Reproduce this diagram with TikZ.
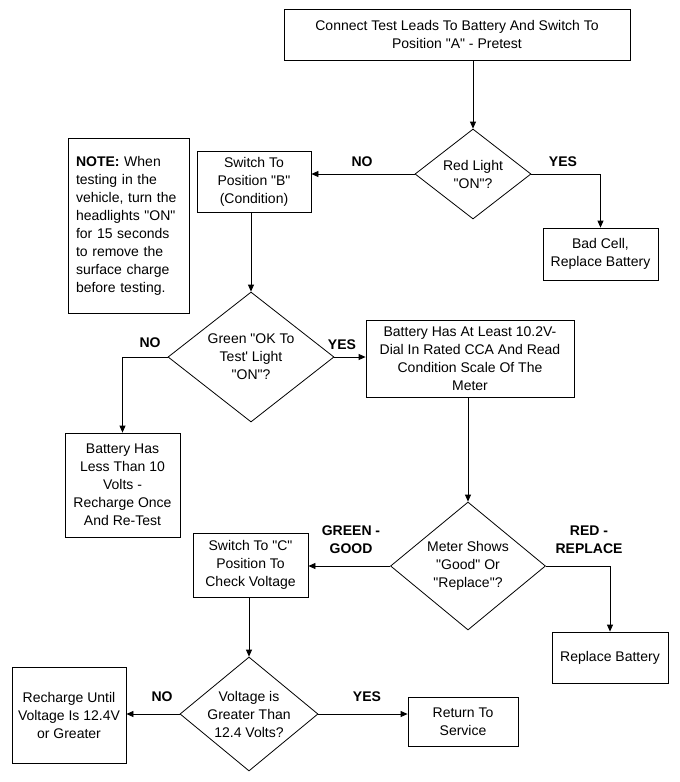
\documentclass[tikz,border=0pt]{standalone}
\usepackage{fontspec}
\setmainfont{Liberation Sans}
\usetikzlibrary{shapes.geometric,arrows.meta}
\newcommand{\dq}{\textquotedbl}
\begin{document}
\begin{tikzpicture}[x=1pt,y=-1pt,
  every node/.style={font=\fontsize{14}{18}\selectfont},
  box/.style={draw,line width=0.8pt,inner sep=0pt,align=center},
  dia/.style={draw,line width=0.8pt,diamond,inner sep=0pt},
  lbl/.style={font=\fontsize{14}{18}\selectfont\bfseries,align=center,inner sep=0pt},
  conn/.style={line width=0.8pt,-{Triangle[length=7pt,width=6pt]}},
  plain/.style={line width=0.8pt}]
\useasboundingbox (0,0) rectangle (680,782);
% boxes
\node[box,minimum width=346pt,minimum height=51pt] (b1) at (457,34.5) {Connect Test Leads To Battery And Switch To\\Position \dq A\dq{} - Pretest};
\node[dia,minimum width=116pt,minimum height=90pt] (d1) at (473,174) {};
\node[align=center] (d1t) at (d1) {Red Light\\\dq ON\dq ?};
\node[box,minimum width=115pt,minimum height=52pt] (bad) at (600.5,254) {Bad Cell,\\Replace Battery};
\node[box,minimum width=114pt,minimum height=61pt] (swB) at (254,181.5) {Switch To\\Position \dq B\dq\\(Condition)};
\node[draw,line width=0.8pt,text width=105pt,inner xsep=8pt,inner ysep=0pt,align=left,minimum height=175pt] (note) at (128.5,225.5)
  {\textbf{NOTE:} When\\testing in the\\vehicle, turn the\\headlights \dq ON\dq\\for 15 seconds\\to remove the\\surface charge\\before testing.};
\node[dia,minimum width=166pt,minimum height=130pt] (d2) at (251,357) {};
\node[align=center] (d2t) at (d2) {Green \dq OK To\\Test\textquotesingle{} Light\\\dq ON\dq ?};
\node[box,minimum width=115pt,minimum height=104pt] (less) at (122.5,485) {Battery Has\\Less Than 10\\Volts -\\Recharge Once\\And Re-Test};
\node[box,minimum width=208pt,minimum height=77pt] (least) at (470,358.5) {Battery Has At Least 10.2V-\\Dial In Rated CCA And Read\\Condition Scale Of The\\Meter};
\node[dia,minimum width=155pt,minimum height=128pt] (d3) at (468,566) {};
\node[align=center] (d3t) at (d3) {Meter Shows\\\dq Good\dq{} Or\\\dq Replace\dq ?};
\node[box,minimum width=115pt,minimum height=64pt] (swC) at (250.5,565) {Switch To \dq C\dq\\Position To\\Check Voltage};
\node[box,minimum width=116pt,minimum height=51pt] (repl) at (610,657.5) {Replace Battery};
\node[dia,minimum width=138pt,minimum height=114pt] (d4) at (249,714) {};
\node[align=center] (d4t) at (d4) {Voltage is\\Greater Than\\12.4 Volts?};
\node[box,minimum width=114pt,minimum height=96pt] (rech) at (69,715) {Recharge Until\\Voltage Is 12.4V\\or Greater};
\node[box,minimum width=110pt,minimum height=49pt] (ret) at (463,721.5) {Return To\\Service};
% labels
\node[lbl] (l1) at (362,162) {NO};
\node[lbl] (l2) at (563,162) {YES};
\node[lbl] (l3) at (150,343) {NO};
\node[lbl] (l4) at (342,345) {YES};
\node[lbl] (l5) at (351,540) {GREEN -\\GOOD};
\node[lbl] (l6) at (589,540) {RED -\\REPLACE};
\node[lbl] (l7) at (162,697) {NO};
\node[lbl] (l8) at (367,697) {YES};
% connectors
\draw[conn] (d1.north |- b1.south) -- (d1.north);
\draw[conn] (d1.east) -| (bad.north);
\draw[conn] (d1.west) -- (d1.west -| swB.east);
\draw[conn] (d2.north |- swB.south) -- (d2.north);
\draw[conn] (d2.west) -| (less.north);
\draw[conn] (d2.east) -- (d2.east -| least.west);
\draw[conn] (d3.north |- least.south) -- (d3.north);
\draw[conn] (d3.west) -- (d3.west -| swC.east);
\draw[conn] (d3.east) -| (repl.north);
\draw[conn] (d4.north |- swC.south) -- (d4.north);
\draw[conn] (d4.west) -- (d4.west -| rech.east);
\draw[conn] (d4.east) -- (d4.east -| ret.west);
\end{tikzpicture}
\end{document}
